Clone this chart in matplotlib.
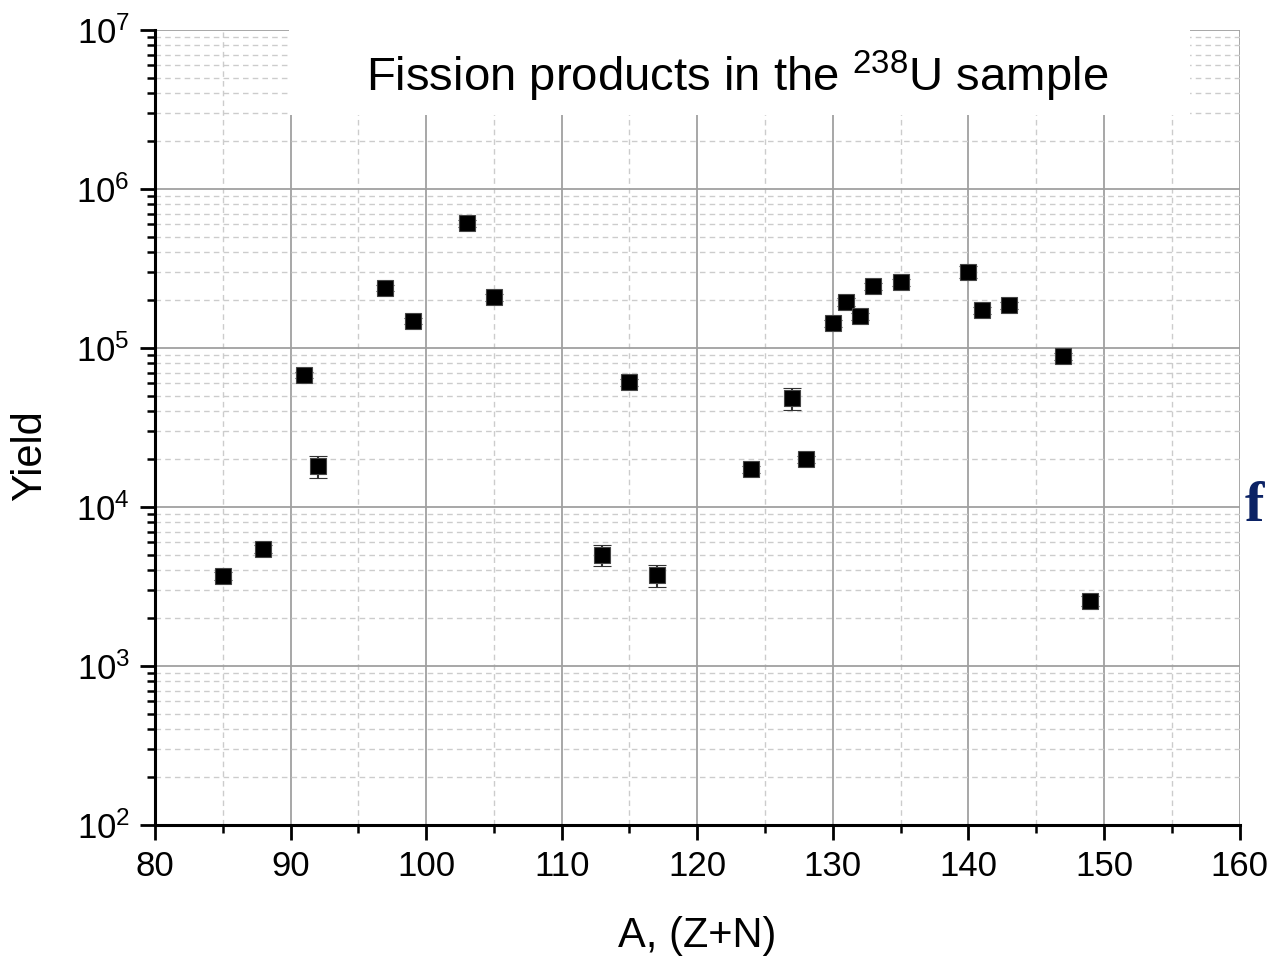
import matplotlib
matplotlib.use("Agg")
import matplotlib.pyplot as plt
from matplotlib.patches import Rectangle
from matplotlib.ticker import LogLocator, MultipleLocator, NullFormatter

plt.rcParams['font.family'] = ['Liberation Sans', 'DejaVu Sans']
plt.rcParams['mathtext.fontset'] = 'custom'
plt.rcParams['mathtext.rm'] = 'Liberation Sans'

# mass number A and measured yield with error bars
mass = [85, 88, 91, 92, 97, 99, 103, 105, 113, 115, 117, 124,
        127, 128, 130, 131, 132, 133, 135, 140, 141, 143, 147, 149]
yields = [3680, 5440, 67600, 18100, 238000, 148000, 611000, 209000, 4990, 61100, 3730, 17300,
          48500, 20000, 143000, 195000, 159000, 245000, 260000, 301000, 173000, 186000, 89100, 2570]
err = [200, 300, 3000, 2900, 10000, 7000, 30000, 10000, 760, 3000, 590, 900,
       7600, 1000, 7000, 10000, 8000, 12000, 13000, 25000, 9000, 9000, 4500, 200]

fig = plt.figure(figsize=(12.7, 9.56), dpi=100)
ax = fig.add_axes([0.122, 0.137, 0.854, 0.8316])

ax.errorbar(mass, yields, yerr=err, fmt='s', color='black', markersize=11,
            markeredgecolor='#444444', markeredgewidth=0.8,
            ecolor='#333333', elinewidth=1.5, capsize=6.5, capthick=2, zorder=3)

ax.set_yscale('log')
ax.set_xlim(80, 160)
ax.set_ylim(1e2, 1e7)
ax.xaxis.set_major_locator(MultipleLocator(10))
ax.xaxis.set_minor_locator(MultipleLocator(5))
ax.yaxis.set_major_locator(LogLocator(base=10, numticks=10))
ax.yaxis.set_minor_locator(LogLocator(base=10, subs=range(2, 10), numticks=20))
ax.yaxis.set_minor_formatter(NullFormatter())

ax.grid(which='major', color='#a0a0a0', linewidth=1.3, linestyle='-')
ax.grid(which='minor', color='#cccccc', linewidth=1.0, linestyle=(0, (4, 3)))
ax.set_axisbelow(True)

for s in ['top', 'right']:
    ax.spines[s].set_visible(False)
for s in ['left', 'bottom']:
    ax.spines[s].set_linewidth(2.2)

ax.tick_params(which='major', direction='out', length=11, width=2, labelsize=25, pad=7)
ax.tick_params(which='minor', direction='out', length=6, width=1.8)

# white box behind the title
ax.add_patch(Rectangle((0.124, 0.893), 0.83, 0.107, transform=ax.transAxes,
                       facecolor='white', edgecolor='none', zorder=1.8))
ax.text(0.537, 0.941, r'Fission products in the $^{238}$U sample', transform=ax.transAxes,
        ha='center', va='center', fontsize=34, zorder=2)

ax.set_xlabel('A, (Z+N)', fontsize=30)
ax.set_ylabel('Yield', fontsize=30)
ax.xaxis.set_label_coords(0.5, -0.115)
ax.yaxis.set_label_coords(-0.097, 0.465)

fig.text(0.988, 0.455, 'f', ha='center', va='baseline', fontsize=42,
         fontweight='bold', family='Liberation Serif', color='#0b2265')

fig.savefig('out.png', dpi=100)
